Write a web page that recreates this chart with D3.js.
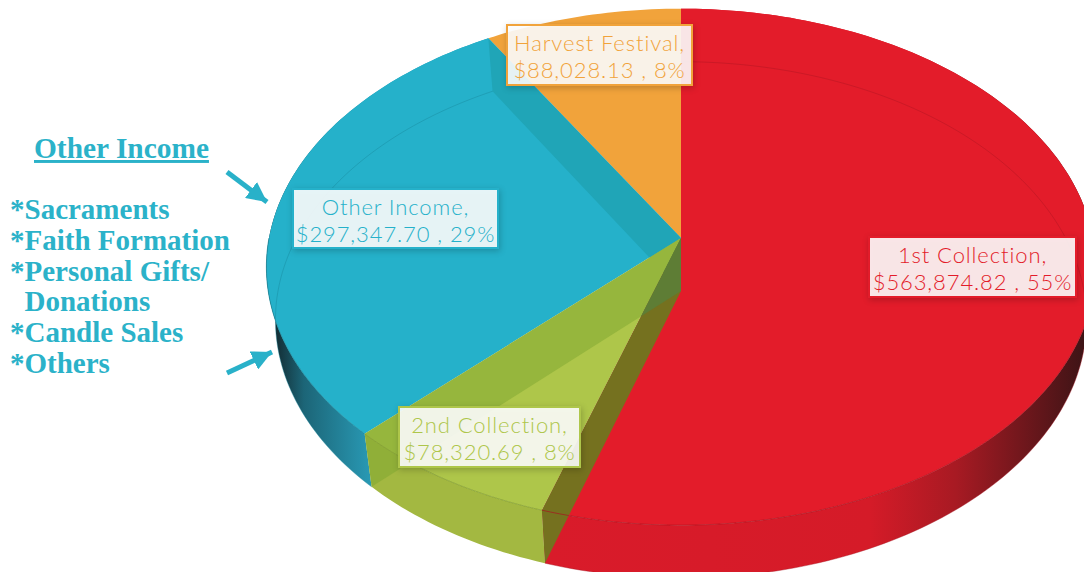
<!DOCTYPE html>
<html>
<head>
<meta charset="utf-8">
<script src="https://d3js.org/d3.v7.min.js"></script>
<style>
  html, body { margin: 0; padding: 0; background: #fff; overflow: hidden; }
  svg { display: block; }
</style>
</head>
<body>
<div id="container"></div>
<script>
/* DATA */
const categories = ["1st Collection", "2nd Collection", "Other Income", "Harvest Festival"];
const amounts = [563874.82, 78320.69, 297347.70, 88028.13];
const percentLabels = ["55%", "8%", "29%", "8%"];
const noteTitle = "Other Income";
const noteLines = ["*Sacraments", "*Faith Formation", "*Personal Gifts/", "  Donations", "*Candle Sales", "*Others"];

/* CONSTANTS */
const width = 1084,
  height = 572,
  cx = 681,
  tilt = 0.112, // perspective, far side of the pie shrinks
  topFace = { cy: 238, rx: 412, ry: 255 },
  bottomFace = { cy: 291, rx: 403, ry: 255 };

const colors = ["#e31c2a", "#aec64a", "#25b1ca", "#f1a33b"];
const rimColors = ["#a81420", "#7f9a2c", "#178598", "#d98d2a"];

// label boxes in pixels: left, top, width, height
const labelBoxes = [[869, 237, 207, 60], [399, 407, 181, 60], [293, 189, 205, 59], [507, 25, 185, 60]];

const svg = d3.select("#container").append("svg")
  .attr("width", width)
  .attr("height", height);

const defs = svg.append("defs");

function sideGradient(id, x1, x2, stops) {
  const g = defs.append("linearGradient")
    .attr("id", id)
    .attr("gradientUnits", "userSpaceOnUse")
    .attr("x1", x1).attr("x2", x2).attr("y1", 0).attr("y2", 0);
  stops.forEach(s => g.append("stop").attr("offset", s[0]).attr("stop-color", s[1]));
}
sideGradient("sideRed", 548, 1084, [[0, "#d91b2a"], [0.6, "#d51b28"], [0.76, "#a81a23"], [1, "#3e1416"]]);
sideGradient("sideBlue", 272, 378, [[0, "#12262c"], [0.3, "#1c6577"], [1, "#2a9fbb"]]);

defs.append("marker")
  .attr("id", "head")
  .attr("viewBox", "0 0 10 10")
  .attr("refX", 10).attr("refY", 5)
  .attr("markerUnits", "userSpaceOnUse")
  .attr("markerWidth", 20).attr("markerHeight", 20)
  .attr("orient", "auto")
  .append("path")
  .attr("d", "M0,0L10,5L0,10Z")
  .attr("fill", "#29b1c9");

/* PIE ANGLES */
const slices = d3.pie().sort(null)(amounts);

// angle (clockwise from 12 o'clock) to a pixel on one of the faces
function project(angle, face) {
  const w = 1 + tilt * Math.cos(angle);
  return [cx + face.rx * Math.sin(angle) / w, face.cy - face.ry * Math.cos(angle) / w];
}
const centre = face => [cx, face.cy];

function rim(a0, a1, face) {
  const n = Math.max(2, Math.ceil(Math.abs(a1 - a0) / 0.02));
  return d3.range(n + 1).map(i => project(a0 + (a1 - a0) * i / n, face));
}

const line = d3.line();
const closed = pts => line(pts) + "Z";

const wedge = (s, face) => closed([centre(face), ...rim(s.startAngle, s.endAngle, face)]);
const side = s => closed([...rim(s.startAngle, s.endAngle, topFace), ...rim(s.endAngle, s.startAngle, bottomFace)]);
const wall = angle => closed([centre(topFace), project(angle, topFace), project(angle, bottomFace), centre(bottomFace)]);

const [first, second, other, harvest] = slices;
const pie = svg.append("g");

/* OUTER SIDES */
pie.append("path").attr("d", side(first)).attr("fill", "url(#sideRed)");
pie.append("path").attr("d", side(other)).attr("fill", "url(#sideBlue)");
pie.append("path").attr("d", side(second)).attr("fill", "#a3b841");

/* FACES AND THE WALLS SEEN THROUGH THEM */
pie.append("path").attr("d", wedge(harvest, topFace)).attr("fill", colors[3]);
pie.append("path").attr("d", wedge(first, topFace)).attr("fill", colors[0]);
pie.append("path").attr("d", wedge(other, topFace)).attr("fill", colors[2]);
pie.append("path").attr("d", wall(other.endAngle)).attr("fill", "#20a5b7");
pie.append("path").attr("d", wedge(second, topFace)).attr("fill", colors[1]);

// the part of the 2nd Collection wedge between both walls
pie.append("path").attr("d", wall(second.endAngle))
  .attr("fill", "#7ea52f").attr("fill-opacity", 0.5);
pie.append("path").attr("d", wall(first.endAngle)).attr("fill", "#75711f");

defs.append("clipPath").attr("id", "wallClip")
  .append("path").attr("d", wall(second.endAngle));
pie.append("path").attr("d", wall(first.endAngle))
  .attr("clip-path", "url(#wallClip)")
  .attr("fill", "#5e7d35");

/* RIM LINES */
// far rim of the bottom face shows faintly through the top face
[first, other].forEach(s => {
  pie.append("path")
    .attr("d", line(rim(s.startAngle, s.endAngle, bottomFace)))
    .attr("fill", "none")
    .attr("stroke", rimColors[slices.indexOf(s)])
    .attr("stroke-opacity", 0.4)
    .attr("stroke-width", 1);
});
// near rim of the top face, only the front half
[first, second, other].forEach(s => {
  const a0 = Math.max(s.startAngle, Math.PI / 2),
    a1 = Math.min(s.endAngle, Math.PI * 1.5);
  pie.append("path")
    .attr("d", line(rim(a0, a1, topFace)))
    .attr("fill", "none")
    .attr("stroke", rimColors[slices.indexOf(s)])
    .attr("stroke-opacity", 0.7)
    .attr("stroke-width", 1);
});

/* LABELS */
const money = d3.format("$,.2f");
const label = svg.selectAll(".label")
  .data(slices)
  .join("g")
  .attr("class", "label")
  .attr("transform", (d, i) => `translate(${labelBoxes[i][0]},${labelBoxes[i][1]})`);

label.append("rect")
  .attr("width", (d, i) => labelBoxes[i][2])
  .attr("height", (d, i) => labelBoxes[i][3])
  .attr("fill", "#fff")
  .attr("fill-opacity", 0.89)
  .attr("stroke", (d, i) => colors[i])
  .attr("stroke-width", 2)
  .style("filter", "drop-shadow(1px 2px 3px rgba(0,0,0,0.22))");

label.append("text")
  .attr("x", (d, i) => labelBoxes[i][2] / 2)
  .attr("y", 26)
  .text((d, i) => categories[i] + ",");

label.append("text")
  .attr("x", (d, i) => labelBoxes[i][2] / 2)
  .attr("y", 53)
  .text((d, i) => `${money(amounts[i])} , ${percentLabels[i]}`);

label.selectAll("text")
  .attr("text-anchor", "middle")
  .attr("font-family", "Lato, sans-serif")
  .attr("font-weight", 300)
  .attr("font-size", 22)
  .attr("letter-spacing", 0.9)
  .attr("fill", function () { return colors[slices.indexOf(d3.select(this).datum())]; });

/* NOTE ON THE LEFT */
const noteFont = "'Liberation Serif', serif";
svg.append("text")
  .attr("x", 34).attr("y", 158)
  .attr("font-family", noteFont)
  .attr("font-weight", 700)
  .attr("font-size", 29.4)
  .attr("fill", "#2bb2c9")
  .attr("text-decoration", "underline")
  .text(noteTitle);

const noteY = d3.scalePoint().domain(d3.range(noteLines.length)).range([219, 373]);
svg.selectAll(".note")
  .data(noteLines)
  .join("text")
  .attr("class", "note")
  .attr("x", 10)
  .attr("y", (d, i) => noteY(i))
  .attr("xml:space", "preserve")
  .style("white-space", "pre")
  .attr("font-family", noteFont)
  .attr("font-weight", 700)
  .attr("font-size", 29)
  .attr("fill", "#2bb2c9")
  .text(d => d);

/* ARROWS */
const arrows = [[227, 172, 267, 202], [227, 373, 272, 352]];
svg.selectAll(".arrow")
  .data(arrows)
  .join("line")
  .attr("class", "arrow")
  .attr("x1", d => d[0]).attr("y1", d => d[1])
  .attr("x2", d => d[2]).attr("y2", d => d[3])
  .attr("stroke", "#29b1c9")
  .attr("stroke-width", 5)
  .attr("marker-end", "url(#head)");
</script>
</body>
</html>
